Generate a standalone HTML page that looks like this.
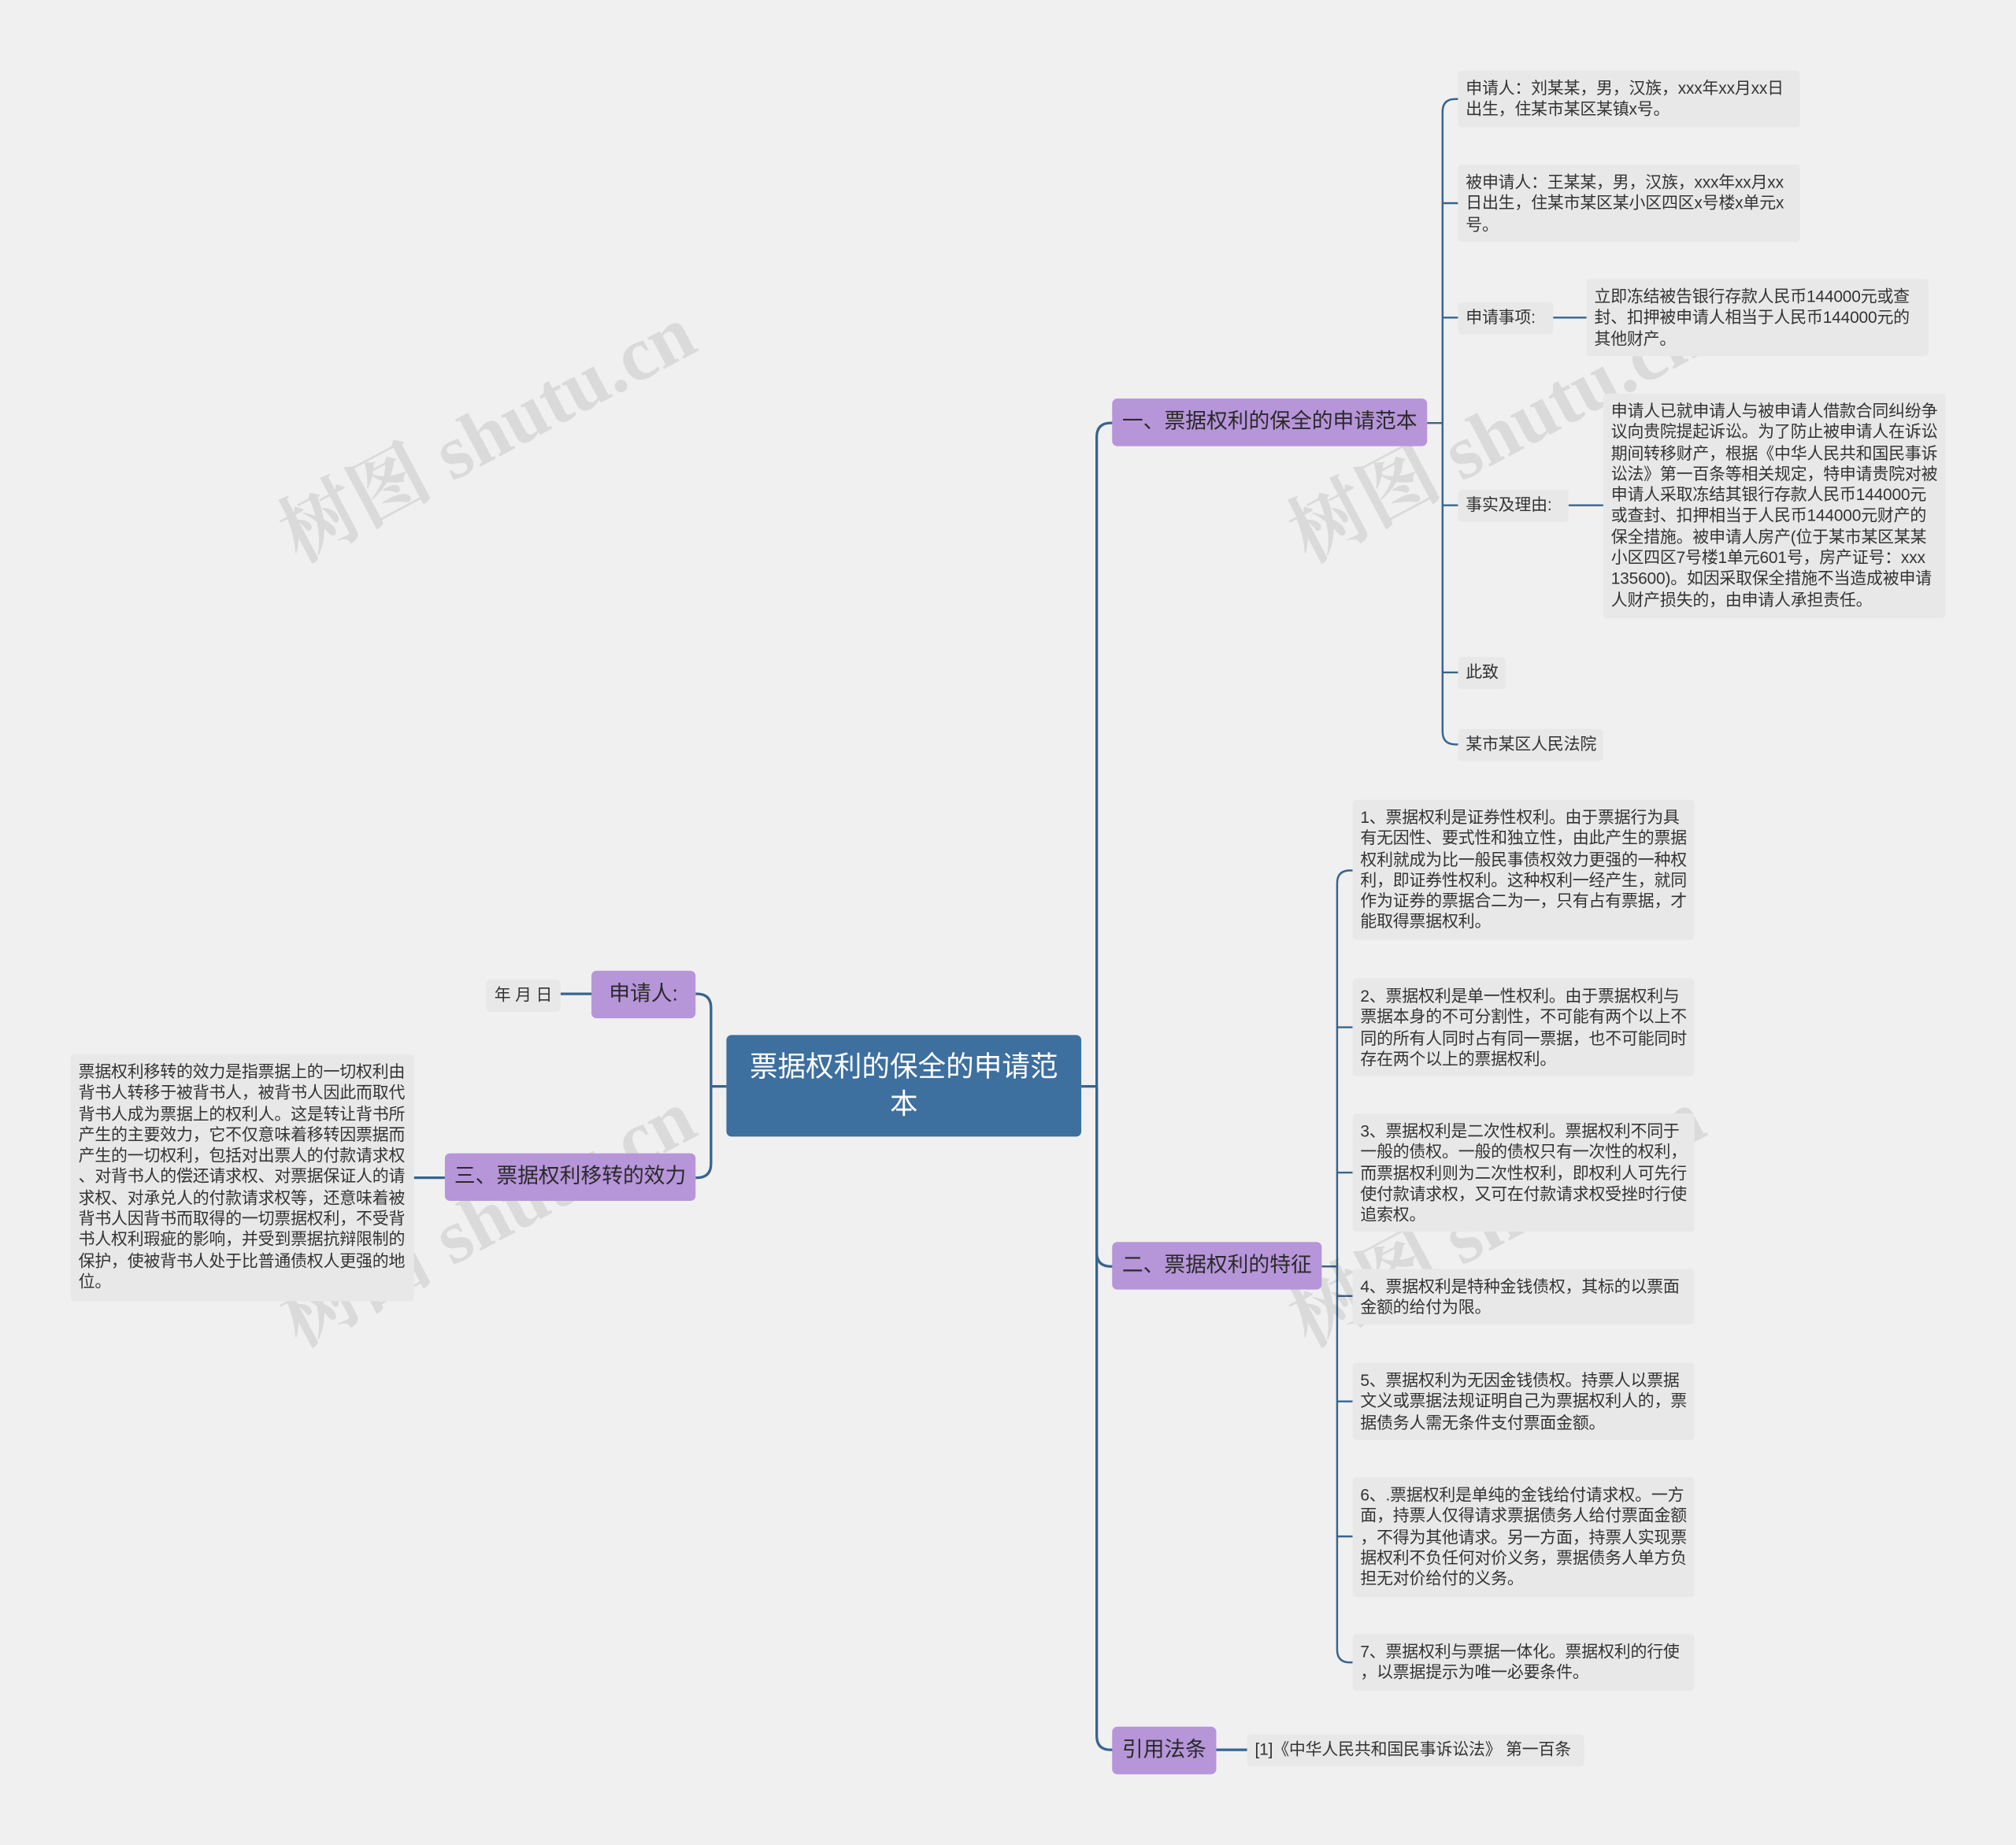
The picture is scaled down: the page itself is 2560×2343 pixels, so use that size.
<!DOCTYPE html>
<html><head><meta charset="utf-8"><style>
html,body{margin:0;padding:0;background:#f0f0f0;}
body{width:2560px;height:2343px;overflow:hidden;position:relative;}
#w{position:absolute;left:0;top:0;width:1568px;height:1435px;transform:scale(1.63265,1.63275);transform-origin:0 0;font-family:"Liberation Sans","Noto Sans CJK SC",sans-serif;}
.n{position:absolute;box-sizing:border-box;}
.p{background:#b795d9;border-radius:4px;color:#2a2a2a;font-size:16.4px;line-height:37px;text-align:center;white-space:nowrap;}
.l{background:#e8e8e8;border-radius:3px;color:#333;font-size:12.8px;line-height:16.3px;padding:6px 6px;white-space:nowrap;letter-spacing:-0.1px;}
.wm{position:absolute;color:rgba(0,0,0,0.09);font-size:60px;transform:rotate(-28deg);white-space:nowrap;font-family:"Liberation Serif","Noto Serif CJK SC",serif;font-weight:bold;}
</style></head><body><div id="w">
<svg width="1568" height="1435" style="position:absolute;left:0;top:0" fill="none" stroke="#36648f" stroke-width="2">
<path d="M841 845 H853"/>
<path d="M853 845 V340 Q853 329 864 329 H866"/>
<path d="M853 845 V974 Q853 985 864 985 H866"/>
<path d="M853 845 V1350 Q853 1361 864 1361 H866"/>
<path d="M565 845 H553"/>
<path d="M553 845 V784 Q553 773 542 773 H541"/>
<path d="M553 845 V905 Q553 916 542 916 H541"/>
<path d="M460 773 H436"/>
<path d="M346 916 H322"/>
<path d="M970 1361 H946"/>
<g stroke-width="1.5">
<path d="M1110 329 H1122"/>
<path d="M1134 77 H1132 Q1122 77 1122 87 V569 Q1122 579 1132 579 H1134"/>
<path d="M1122 158 H1134 M1122 247 H1134 M1122 393 H1134 M1122 523 H1134"/>
<path d="M1208 247 H1234 M1220 393 H1247"/>
<path d="M1028 985 H1040"/>
<path d="M1052 677 H1050 Q1040 677 1040 687 V1283 Q1040 1293 1050 1293 H1052"/>
<path d="M1040 799 H1052 M1040 912 H1052 M1040 1008 H1052 M1040 1090 H1052 M1040 1195 H1052"/>
</g>
</svg>
<div class="wm" style="left:200px;top:290px">树图 shutu.cn</div>
<div class="wm" style="left:985px;top:290px">树图 shutu.cn</div>
<div class="wm" style="left:200px;top:900px">树图 shutu.cn</div>
<div class="wm" style="left:985px;top:900px">树图 shutu.cn</div>

<div class="n" style="left:565px;top:805px;width:276px;height:79px;background:#3d6f9f;border-radius:4px;color:#fff;font-size:21.8px;line-height:29px;text-align:center;padding-top:10px">票据权利的保全的申请范<br>本</div>
<div class="n p" style="left:865px;top:310px;width:245px;height:37px">一、票据权利的保全的申请范本</div>
<div class="n p" style="left:865px;top:966px;width:163px;height:37px">二、票据权利的特征</div>
<div class="n p" style="left:865px;top:1343px;width:81px;height:37px">引用法条</div>
<div class="n p" style="left:460px;top:755px;width:81px;height:37px">申请人:</div>
<div class="n p" style="left:346px;top:897px;width:195px;height:37px">三、票据权利移转的效力</div>

<div class="n l" style="left:378px;top:762px;width:58px;height:25px;padding-top:4px;text-align:center">年 月 日</div>
<div class="n l" style="left:55px;top:820px;width:267px;height:192px">票据权利移转的效力是指票据上的一切权利由<br>背书人转移于被背书人，被背书人因此而取代<br>背书人成为票据上的权利人。这是转让背书所<br>产生的主要效力，它不仅意味着移转因票据而<br>产生的一切权利，包括对出票人的付款请求权<br>、对背书人的偿还请求权、对票据保证人的请<br>求权、对承兑人的付款请求权等，还意味着被<br>背书人因背书而取得的一切票据权利，不受背<br>书人权利瑕疵的影响，并受到票据抗辩限制的<br>保护，使被背书人处于比普通债权人更强的地<br>位。</div>

<div class="n l" style="left:1134px;top:55px;width:266px;height:44px">申请人：刘某某，男，汉族，xxx年xx月xx日<br>出生，住某市某区某镇x号。</div>
<div class="n l" style="left:1134px;top:128px;width:266px;height:60px">被申请人：王某某，男，汉族，xxx年xx月xx<br>日出生，住某市某区某小区四区x号楼x单元x<br>号。</div>
<div class="n l" style="left:1134px;top:235px;width:74px;height:25px;padding-top:4px">申请事项:</div>
<div class="n l" style="left:1234px;top:217px;width:266px;height:60px">立即冻结被告银行存款人民币144000元或查<br>封、扣押被申请人相当于人民币144000元的<br>其他财产。</div>
<div class="n l" style="left:1134px;top:381px;width:86px;height:25px;padding-top:4px">事实及理由:</div>
<div class="n l" style="left:1247px;top:306px;width:266px;height:175px">申请人已就申请人与被申请人借款合同纠纷争<br>议向贵院提起诉讼。为了防止被申请人在诉讼<br>期间转移财产，根据《中华人民共和国民事诉<br>讼法》第一百条等相关规定，特申请贵院对被<br>申请人采取冻结其银行存款人民币144000元<br>或查封、扣押相当于人民币144000元财产的<br>保全措施。被申请人房产(位于某市某区某某<br>小区四区7号楼1单元601号，房产证号：xxx<br>135600)。如因采取保全措施不当造成被申请<br>人财产损失的，由申请人承担责任。</div>
<div class="n l" style="left:1134px;top:511px;width:37px;height:25px;padding-top:4px">此致</div>
<div class="n l" style="left:1134px;top:567px;width:113px;height:25px;padding-top:4px">某市某区人民法院</div>

<div class="n l" style="left:1052px;top:622px;width:266px;height:109px">1、票据权利是证券性权利。由于票据行为具<br>有无因性、要式性和独立性，由此产生的票据<br>权利就成为比一般民事债权效力更强的一种权<br>利，即证券性权利。这种权利一经产生，就同<br>作为证券的票据合二为一，只有占有票据，才<br>能取得票据权利。</div>
<div class="n l" style="left:1052px;top:761px;width:266px;height:76px">2、票据权利是单一性权利。由于票据权利与<br>票据本身的不可分割性，不可能有两个以上不<br>同的所有人同时占有同一票据，也不可能同时<br>存在两个以上的票据权利。</div>
<div class="n l" style="left:1052px;top:866px;width:266px;height:92px">3、票据权利是二次性权利。票据权利不同于<br>一般的债权。一般的债权只有一次性的权利，<br>而票据权利则为二次性权利，即权利人可先行<br>使付款请求权，又可在付款请求权受挫时行使<br>追索权。</div>
<div class="n l" style="left:1052px;top:987px;width:266px;height:43px">4、票据权利是特种金钱债权，其标的以票面<br>金额的给付为限。</div>
<div class="n l" style="left:1052px;top:1060px;width:266px;height:60px">5、票据权利为无因金钱债权。持票人以票据<br>文义或票据法规证明自己为票据权利人的，票<br>据债务人需无条件支付票面金额。</div>
<div class="n l" style="left:1052px;top:1149px;width:266px;height:93px">6、.票据权利是单纯的金钱给付请求权。一方<br>面，持票人仅得请求票据债务人给付票面金额<br>，不得为其他请求。另一方面，持票人实现票<br>据权利不负任何对价义务，票据债务人单方负<br>担无对价给付的义务。</div>
<div class="n l" style="left:1052px;top:1271px;width:266px;height:44px">7、票据权利与票据一体化。票据权利的行使<br>，以票据提示为唯一必要条件。</div>
<div class="n l" style="left:970px;top:1349px;width:262px;height:25px;padding-top:4px">[1]《中华人民共和国民事诉讼法》 第一百条</div>
</div></body></html>
